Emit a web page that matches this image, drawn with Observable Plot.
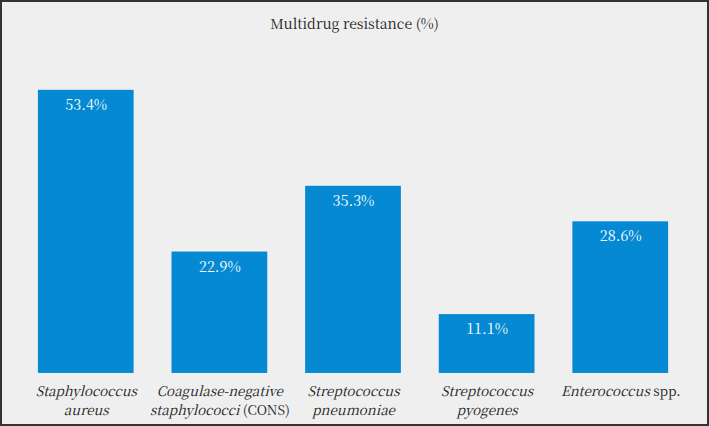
<!DOCTYPE html>
<html>
<head>
<meta charset="utf-8">
<script src="https://cdn.jsdelivr.net/npm/d3@7"></script>
<script src="https://cdn.jsdelivr.net/npm/@observablehq/plot@0.6"></script>
<style>
  html, body { margin: 0; padding: 0; background: #fff; }
  #chart { position: relative; width: 709px; height: 426px; box-sizing: border-box;
           border: 2px solid #333; background: #efefef; overflow: hidden; }
  #title { position: absolute; top: 11px; left: 0; width: 100%; text-align: center;
           font-size: 14px; color: #222; }
  #plot { position: absolute; top: -2px; left: -2px; }
</style>
</head>
<body>
<div id="chart">
  <div id="title" style="font-family:'Noto Serif CJK SC', 'Liberation Serif', serif">Multidrug resistance (%)</div>
  <div id="plot"></div>
</div>
<script>
const categories = [
  "Staphylococcus\naureus",
  "Coagulase-negative\nstaphylococci (CONS)",
  "Streptococcus\npneumoniae",
  "Streptococcus\npyogenes",
  "Enterococcus spp."
];
const values = [53.4, 22.9, 35.3, 11.1, 28.6];
const nonItalicParts = [" (CONS)", " spp."];

const data = categories.map((c, i) => ({category: c, value: values[i]}));
const serif = "'Noto Serif CJK SC', 'Liberation Serif', serif";

const chart = Plot.plot({
  width: 709,
  height: 426,
  marginLeft: 17,
  marginRight: 19,
  marginTop: 55,
  marginBottom: 52,
  style: {background: "transparent", fontFamily: serif},
  x: {domain: categories, paddingInner: 0.286, paddingOuter: 0.143, label: null},
  y: {domain: [0, 60], axis: null},
  marks: [
    Plot.barY(data, {x: "category", y: "value", fill: "#0589d2"}),
    Plot.text(data, {x: "category", y: "value", text: d => d.value.toFixed(1) + "%",
      dy: 15, fill: "white", fontSize: 14.5, fontFamily: serif}),
    Plot.axisX({tickSize: 0, tickPadding: 8, fontSize: 13.5, lineHeight: 1.48,
      fill: "#222", fontStyle: "italic", fontFamily: serif, label: null})
  ]
});
document.getElementById("plot").appendChild(chart);

// Make the non-italic parts upright
d3.select(chart).selectAll("[aria-label='x-axis tick label'] tspan, [aria-label='x-axis tick label'] text").each(function() {
  const el = d3.select(this);
  if (this.querySelector("tspan")) return;
  const t = el.text();
  for (const p of nonItalicParts) {
    if (t.endsWith(p)) {
      el.text(t.slice(0, -p.length));
      el.append("tspan").attr("font-style", "normal").text(p);
    }
  }
});
</script>
</body>
</html>
